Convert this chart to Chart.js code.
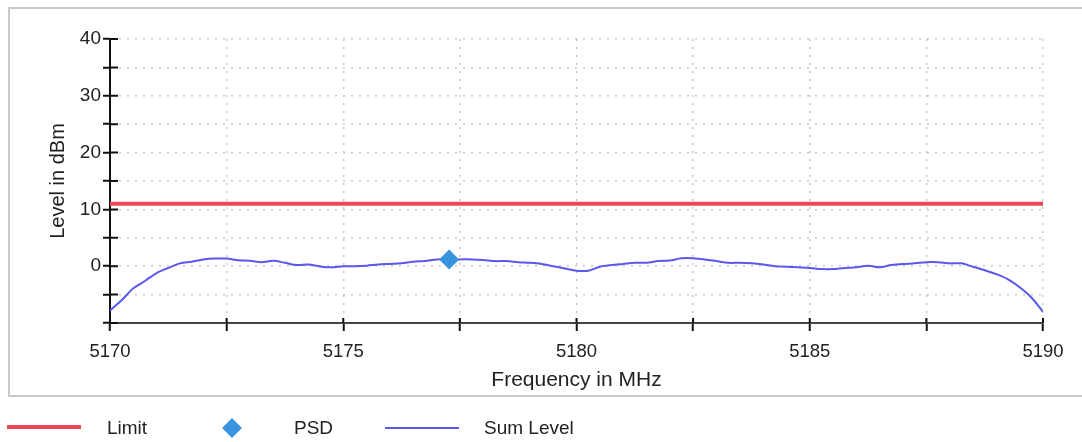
<!DOCTYPE html>
<html>
<head>
<meta charset="utf-8">
<script src="https://cdn.jsdelivr.net/npm/chart.js@4.4.1/dist/chart.umd.min.js"></script>
<style>
  html, body { margin: 0; padding: 0; background: #ffffff; }
  body { width: 1082px; height: 442px; position: relative; overflow: hidden; font-family: "Liberation Sans", Arial, sans-serif; }
  #frame { position: absolute; left: 8px; top: 7px; width: 1100px; height: 386px; border-left: 2px solid #c9c9c9; border-top: 2px solid #c9c9c9; border-bottom: 2px solid #c9c9c9; }
  #c { position: absolute; left: 0; top: 0; }
  .leg { position: absolute; top: 417px; height: 22px; line-height: 22px; font-size: 19px; color: #222; }
  .legline { position: absolute; }
</style>
</head>
<body>
<div id="frame"></div>
<canvas id="c" width="1082" height="442"></canvas>
<div class="legline" style="left:7px; top:425px; width:74px; height:4px; background:rgb(234,72,84);"></div>
<div class="leg" style="left:107px;">Limit</div>
<div class="legline" style="left:225px; top:421px; width:14px; height:14px; background:rgb(56,148,222); transform:rotate(45deg);"></div>
<div class="leg" style="left:294px;">PSD</div>
<div class="legline" style="left:385px; top:427px; width:74px; height:2px; background:rgb(88,88,236);"></div>
<div class="leg" style="left:484px;">Sum Level</div>
<script>
// ---- data ----
const freqMHz = [
  5170.00, 5170.25, 5170.50, 5170.75, 5171.00, 5171.25, 5171.50, 5171.75,
  5172.00, 5172.25, 5172.50, 5172.75, 5173.00, 5173.25, 5173.50, 5173.75,
  5174.00, 5174.25, 5174.50, 5174.75, 5175.00, 5175.25, 5175.50, 5175.75,
  5176.00, 5176.25, 5176.50, 5176.75, 5177.00, 5177.25, 5177.50, 5177.75,
  5178.00, 5178.25, 5178.50, 5178.75, 5179.00, 5179.25, 5179.50, 5179.75,
  5180.00, 5180.25, 5180.50, 5180.75, 5181.00, 5181.25, 5181.50, 5181.75,
  5182.00, 5182.25, 5182.50, 5182.75, 5183.00, 5183.25, 5183.50, 5183.75,
  5184.00, 5184.25, 5184.50, 5184.75, 5185.00, 5185.25, 5185.50, 5185.75,
  5186.00, 5186.25, 5186.50, 5186.75, 5187.00, 5187.25, 5187.50, 5187.75,
  5188.00, 5188.25, 5188.50, 5188.75, 5189.00, 5189.25, 5189.50, 5189.75,
  5190.00
];
const sumLevel = [
  -7.8, -6.0, -3.9, -2.6, -1.2, -0.3, 0.5, 0.8,
  1.2, 1.35, 1.35, 1.05, 0.95, 0.7, 0.95, 0.6,
  0.2, 0.3, -0.05, -0.2, 0.0, 0.0, 0.1, 0.3,
  0.4, 0.5, 0.8, 0.9, 1.2, 1.2, 1.2, 1.2,
  1.1, 0.9, 0.9, 0.7, 0.6, 0.4, 0.0, -0.4,
  -0.8, -0.8, -0.1, 0.2, 0.4, 0.6, 0.6, 0.9,
  1.0, 1.4, 1.4, 1.2, 0.9, 0.6, 0.6, 0.5,
  0.3, 0.0, -0.1, -0.2, -0.3, -0.5, -0.5, -0.3,
  -0.2, 0.1, -0.2, 0.2, 0.4, 0.5, 0.7, 0.7,
  0.5, 0.5, -0.1, -0.7, -1.4, -2.3, -3.7, -5.5,
  -8.0
];
const limitFreq = [5170, 5190];
const limitLevel = [11, 11];
const psdFreq = [5177.27];
const psdLevel = [1.2];
const xTickLabels = [5170, 5175, 5180, 5185, 5190];
const yTickLabels = [0, 10, 20, 30, 40];

const pts = (xs, ys) => xs.map((x, i) => ({ x: x, y: ys[i] }));

const innerTicks = {
  id: 'innerTicks',
  afterDatasetsDraw(chart) {
    const ctx = chart.ctx, a = chart.chartArea;
    const xs = chart.scales.x, ys = chart.scales.y;
    ctx.save();
    ctx.strokeStyle = '#111';
    ctx.lineWidth = 2;
    ctx.beginPath();
    xs.ticks.forEach(t => { const p = xs.getPixelForValue(t.value); ctx.moveTo(p, a.bottom); ctx.lineTo(p, a.bottom - 5); });
    ys.ticks.forEach(t => { const p = ys.getPixelForValue(t.value); ctx.moveTo(a.left, p); ctx.lineTo(a.left + 8, p); });
    ctx.stroke();
    ctx.restore();
  }
};

const FONT = '"Liberation Sans", Arial, sans-serif';

new Chart(document.getElementById('c'), {
  type: 'line',
  data: {
    datasets: [
      { label: 'Limit', data: pts(limitFreq, limitLevel), borderColor: 'rgb(234,72,84)', borderWidth: 4, pointRadius: 0, tension: 0, order: 3 },
      { label: 'PSD', type: 'scatter', data: pts(psdFreq, psdLevel), backgroundColor: 'rgb(56,148,222)', borderColor: 'rgb(56,148,222)', pointStyle: 'rectRot', pointRadius: 10, borderWidth: 0, order: 1 },
      { label: 'Sum Level', data: pts(freqMHz, sumLevel), borderColor: 'rgb(88,88,236)', borderWidth: 2, pointRadius: 0, tension: 0.3, order: 2 }
    ]
  },
  options: {
    responsive: false,
    animation: false,
    devicePixelRatio: 1,
    layout: { padding: { left: 0, right: 39, top: 39, bottom: 47 } },
    plugins: { legend: { display: false }, tooltip: { enabled: false } },
    scales: {
      x: {
        type: 'linear', min: 5170, max: 5190,
        afterFit: s => { s.height = 72; },
        ticks: {
          stepSize: 2.5, autoSkip: false, maxRotation: 0, padding: 10,
          color: '#222', font: { family: FONT, size: 18.5 },
          callback: v => xTickLabels.includes(v) ? String(v) : ''
        },
        grid: { color: '#cacaca', lineWidth: 1.5, tickColor: '#111', tickWidth: 2, tickLength: 8 },
        border: { display: true, color: '#444', width: 2, dash: [2, 6] },
        title: { display: true, text: 'Frequency in MHz', color: '#222', padding: { top: 0, bottom: 2 }, font: { family: FONT, size: 21 } }
      },
      y: {
        type: 'linear', min: -10, max: 40,
        afterFit: s => { s.width = 110; },
        ticks: {
          stepSize: 5, padding: 2,
          color: '#222', font: { family: FONT, size: 19 },
          callback: v => yTickLabels.includes(v) ? String(v) : ''
        },
        grid: { color: '#cacaca', lineWidth: 1.5, tickColor: '#111', tickWidth: 2, tickLength: 7 },
        border: { display: true, color: '#111', width: 2, dash: [2, 6] },
        title: { display: true, text: 'Level in dBm', color: '#222', padding: { top: 46, bottom: 0 }, font: { family: FONT, size: 20 } }
      }
    }
  },
  plugins: [innerTicks]
});
</script>
</body>
</html>
